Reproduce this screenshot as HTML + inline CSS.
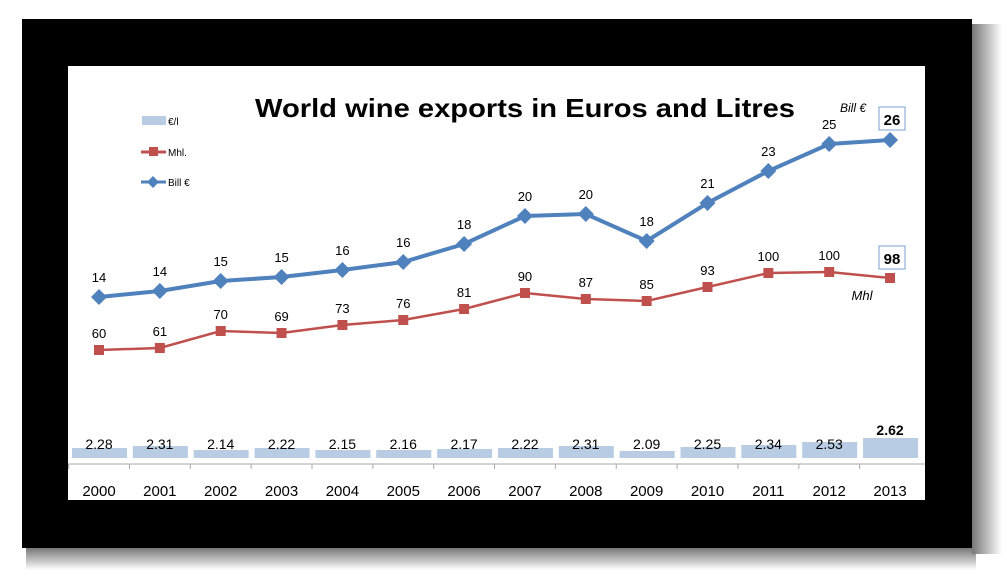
<!DOCTYPE html><html><head><style>body{margin:0;background:#fff;width:1007px;height:572px;overflow:hidden}</style></head><body>
<svg width="1007" height="572" xmlns="http://www.w3.org/2000/svg" font-family="Liberation Sans, sans-serif">
<defs><linearGradient id="sh" x1="0" y1="0" x2="0" y2="1"><stop offset="0" stop-color="#777"/><stop offset="1" stop-color="#fff"/></linearGradient>
<linearGradient id="sr" x1="0" y1="0" x2="1" y2="0"><stop offset="0" stop-color="#777"/><stop offset="1" stop-color="#fff"/></linearGradient></defs>
<rect x="26" y="548" width="950" height="22" fill="url(#sh)"/>
<rect x="972" y="24" width="30" height="530" fill="url(#sr)"/>
<rect x="22" y="19" width="950" height="529" fill="#000"/>
<rect x="68" y="66" width="857" height="434" fill="#fff"/>
<text x="525" y="117" font-size="26" font-weight="bold" text-anchor="middle" textLength="540" lengthAdjust="spacingAndGlyphs">World wine exports in Euros and Litres</text>
<rect x="142" y="116" width="24" height="9" fill="#b8cce4"/><text x="168" y="125" font-size="10">€/l</text>
<line x1="141" y1="152" x2="166" y2="152" stroke="#c0504d" stroke-width="3"/><rect x="149" y="147" width="9" height="9" fill="#c0504d"/><text x="168" y="156" font-size="10">Mhl.</text>
<line x1="141" y1="182" x2="166" y2="182" stroke="#4f81bd" stroke-width="3"/><path d="M153 176l6 6-6 6-6-6z" fill="#4f81bd"/><text x="168" y="186" font-size="10">Bill €</text>
<g id="bars" fill="#b8cce4"></g>
<line x1="68" y1="464" x2="925" y2="464" stroke="#aaa"/>
<g id="g"></g>
<text x="866" y="112" font-size="12" font-style="italic" text-anchor="end">Bill €</text>
<rect x="879" y="107" width="26" height="23" fill="#fff" stroke="#7f9fcf"/><text x="892" y="125" font-size="15" font-weight="bold" text-anchor="middle">26</text>
<rect x="879" y="246" width="26" height="23" fill="#fff" stroke="#7f9fcf"/><text x="892" y="264" font-size="15" font-weight="bold" text-anchor="middle">98</text>
<text x="862" y="300" font-size="13" font-style="italic" text-anchor="middle">Mhl</text>
</svg>
<script>
var b=[14,14,15,15,16,16,18,20,20,18,21,23,25,26],by=[297,291,281,277,270,262,244,216,214,241,203,171,144,140];
var r=[60,61,70,69,73,76,81,90,87,85,93,100,100,98],ry=[350,348,331,333,325,320,309,293,299,301,287,273,272,278];
var e=["2.28","2.31","2.14","2.22","2.15","2.16","2.17","2.22","2.31","2.09","2.25","2.34","2.53","2.62"];
var bh=[10,12,8,10,8,8,9,10,12,7,11,13,16,20];
var s="",bs="";
function X(i){return 99+i*60.85}
var pb="",pr="";
for(var i=0;i<14;i++){var x=X(i);pb+=(i?"L":"M")+x+" "+by[i];pr+=(i?"L":"M")+x+" "+ry[i];
var ty=458-bh[i];bs+='<rect x="'+(x-27)+'" y="'+ty+'" width="55" height="'+bh[i]+'"/>';
if(i<13)s+='<text x="'+x+'" y="449" font-size="14" text-anchor="middle">'+e[i]+'</text>';
else s+='<text x="'+x+'" y="435" font-size="14" font-weight="bold" text-anchor="middle">'+e[i]+'</text>';
s+='<text x="'+x+'" y="496" font-size="15" text-anchor="middle">'+(2000+i)+'</text>';
s+='<line x1="'+(x-30.4)+'" y1="464" x2="'+(x-30.4)+'" y2="469" stroke="#aaa"/>';
}
s+='<path d="'+pr+'" fill="none" stroke="#c0504d" stroke-width="2.5"/><path d="'+pb+'" fill="none" stroke="#4f81bd" stroke-width="4"/>';
for(var i=0;i<14;i++){var x=X(i);
s+='<rect x="'+(x-5)+'" y="'+(ry[i]-5)+'" width="10" height="10" fill="#c0504d"/>';
s+='<path d="M'+x+' '+(by[i]-8)+'l8 8-8 8-8-8z" fill="#4f81bd"/>';
if(i<13){s+='<text x="'+x+'" y="'+(by[i]-15)+'" font-size="13" text-anchor="middle">'+b[i]+'</text>';
s+='<text x="'+x+'" y="'+(ry[i]-12)+'" font-size="13" text-anchor="middle">'+r[i]+'</text>';}}
document.getElementById("bars").innerHTML=bs;document.getElementById("g").innerHTML=s;
</script></body></html>
